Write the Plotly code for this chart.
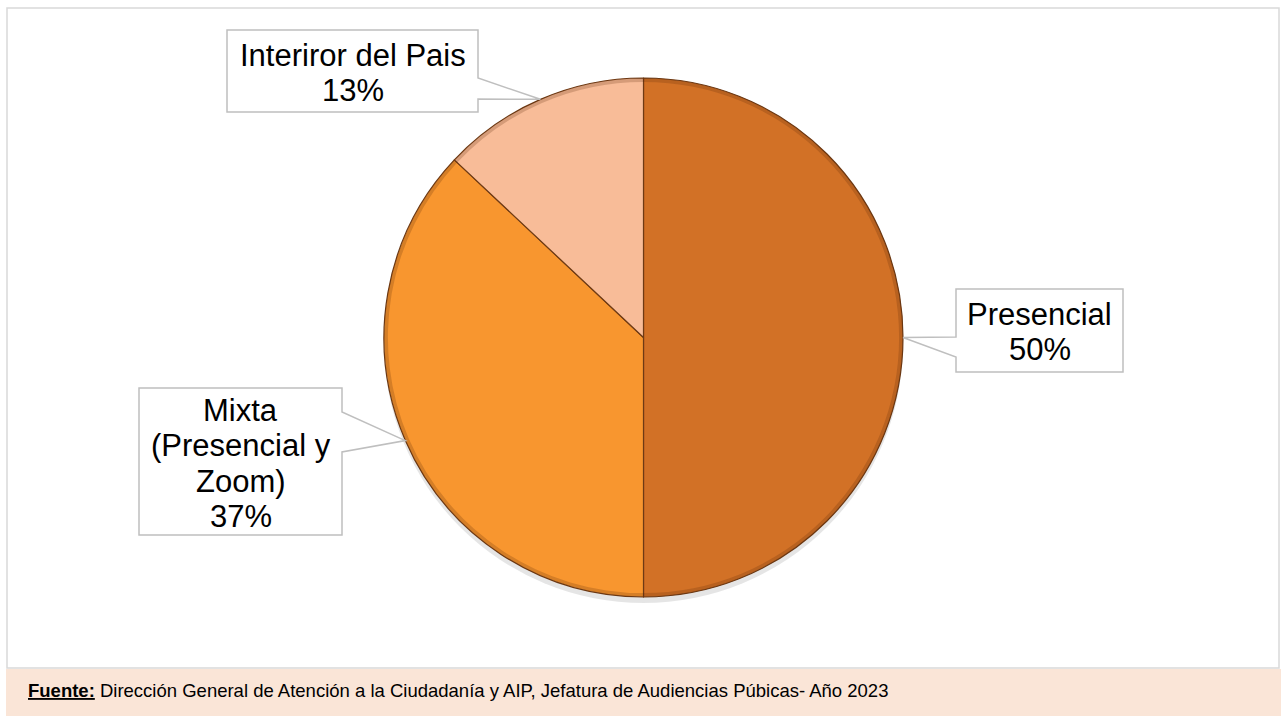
import math
import plotly.graph_objects as go

# ---------------- data ----------------
categories = ["Presencial", "Mixta (Presencial y Zoom)", "Interiror del Pais"]
percentages = [50, 37, 13]
label_lines = [["Presencial"], ["Mixta", "(Presencial y", "Zoom)"], ["Interiror del Pais"]]
slice_colors = ["#D27126", "#F8962F", "#F8BC98"]
source_label = "Fuente:"
source_text = "Dirección General de Atención a la Ciudadanía y AIP, Jefatura de Audiencias Púbicas- Año 2023"

# ---------------- layout constants (pixels) ----------------
W, H = 1284, 716
CX, CY, R = 643.5, 337.5, 259.5
LINE_GAP = 35.5
LABEL_FONT = 31

# box: x0, y0, x1, y1, pointer side, pointer base y's, first line mid-y
boxes = [
    dict(x0=956, y0=289, x1=1123, y1=372, side="left", py=(337, 357), first=314),
    dict(x0=139, y0=388, x1=342, y1=535, side="right", py=(412, 452), first=410),
    dict(x0=227, y0=30, x1=478, y1=112, side="right", py=(78, 99), first=55),
]

fig = go.Figure()

# pie domain from centre / radius
dom_x = [(CX - R) / W, (CX + R) / W]
dom_y = [1 - (CY + R) / H, 1 - (CY - R) / H]

fig.add_trace(go.Pie(
    labels=categories, values=percentages, sort=False, direction="clockwise",
    rotation=0, textinfo="none", hoverinfo="label+percent",
    marker=dict(colors=slice_colors, line=dict(color="#6E3A14", width=1.2)),
    domain=dict(x=dom_x, y=dom_y), showlegend=False,
))
# subtle bevel rim
fig.add_trace(go.Pie(
    labels=categories, values=percentages, sort=False, direction="clockwise",
    rotation=0, textinfo="none", hoverinfo="skip", hole=0.985,
    marker=dict(colors=["rgba(90,40,10,0.22)"] * 3, line=dict(color="rgba(0,0,0,0)", width=0)),
    domain=dict(x=dom_x, y=dom_y), showlegend=False,
))

# invisible pixel axes for shapes / annotations
fig.add_trace(go.Scatter(x=[0, W], y=[0, H], mode="markers", marker=dict(opacity=0),
                         hoverinfo="skip", showlegend=False))

shapes = []
# outer frame
shapes.append(dict(type="rect", xref="x", yref="y", x0=7, y0=8, x1=1279, y1=668,
                   line=dict(color="#D9D9D9", width=1.5), fillcolor="rgba(0,0,0,0)", layer="below"))
# footer band
shapes.append(dict(type="rect", xref="x", yref="y", x0=6, y0=669, x1=1281, y1=716,
                   line=dict(width=0), fillcolor="#FAE5D7", layer="below"))
# pie shadow
shapes.append(dict(type="circle", xref="x", yref="y", x0=CX - R, y0=CY - R + 6, x1=CX + R, y1=CY + R + 6,
                   line=dict(width=0), fillcolor="rgba(0,0,0,0.10)", layer="below"))

total = sum(percentages)
annotations = []
cum = 0
for i, v in enumerate(percentages):
    mid = (cum + v / 2) / total * 2 * math.pi
    cum += v
    tx = CX + R * math.sin(mid)
    ty = CY - R * math.cos(mid)
    b = boxes[i]
    if b["side"] == "left":
        path = (f"M{b['x1']},{b['y0']} L{b['x0']},{b['y0']} L{b['x0']},{b['py'][0]} L{tx:.1f},{ty:.1f} "
                f"L{b['x0']},{b['py'][1]} L{b['x0']},{b['y1']} L{b['x1']},{b['y1']} Z")
    else:
        path = (f"M{b['x0']},{b['y0']} L{b['x1']},{b['y0']} L{b['x1']},{b['py'][0]} L{tx:.1f},{ty:.1f} "
                f"L{b['x1']},{b['py'][1]} L{b['x1']},{b['y1']} L{b['x0']},{b['y1']} Z")
    shapes.append(dict(type="path", xref="x", yref="y", path=path, fillcolor="white",
                       line=dict(color="#BFBFBF", width=1.5), layer="above"))
    lines = label_lines[i] + [f"{round(v / total * 100)}%"]
    xc = (b["x0"] + b["x1"]) / 2
    for j, t in enumerate(lines):
        annotations.append(dict(x=xc, y=b["first"] + j * LINE_GAP, xref="x", yref="y", text=t,
                                showarrow=False, xanchor="center", yanchor="middle",
                                font=dict(family="Liberation Sans, Arial, sans-serif", size=LABEL_FONT, color="#000000")))

annotations.append(dict(x=26, y=690, xref="x", yref="y",
                        text=f"<b><u>{source_label}</u></b> {source_text}",
                        showarrow=False, xanchor="left", yanchor="middle",
                        font=dict(family="Liberation Sans, Arial, sans-serif", size=18.5, color="#000000")))

fig.update_layout(
    width=W, height=H, margin=dict(l=0, r=0, t=0, b=0),
    paper_bgcolor="white", plot_bgcolor="rgba(0,0,0,0)",
    xaxis=dict(range=[0, W], visible=False, domain=[0, 1], fixedrange=True),
    yaxis=dict(range=[H, 0], visible=False, domain=[0, 1], fixedrange=True),
    shapes=shapes, annotations=annotations, showlegend=False,
)

fig.write_html("out.html", post_script="document.body.style.margin='0';", config={"displayModeBar": False})
